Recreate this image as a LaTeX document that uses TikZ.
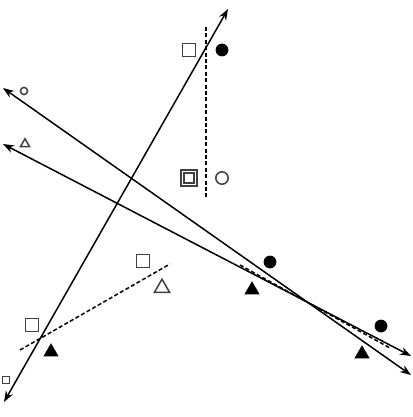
\documentclass[tikz,border=0pt]{standalone}
\usetikzlibrary{arrows.meta,shapes.geometric}

\begin{document}
\begin{tikzpicture}[x=0.5pt,y=-0.5pt,line width=0.75pt,
    >={Stealth[length=5.5pt,width=4pt]},
    sq/.style={draw=black!75,rectangle,minimum size=6.4pt,inner sep=0pt},
    sqs/.style={sq,minimum size=3.6pt},
    dot/.style={fill=black,circle,minimum size=6.4pt,inner sep=0pt},
    ring/.style={draw=black!75,circle,minimum size=6.2pt,inner sep=0pt},
    rings/.style={ring,minimum size=3.6pt},
    tri/.style={regular polygon,regular polygon sides=3,minimum size=8.8pt,inner sep=0pt},
    trif/.style={tri,fill=black},
    trio/.style={tri,draw=black!75},
    tris/.style={trio,minimum size=5.2pt},
    sep/.style={dashed,dash pattern=on 2pt off 1.2pt}]

    \useasboundingbox (0,0) rectangle (412,417);

    % end points of the lines
    \coordinate (a1) at (4,402);   \coordinate (a2) at (228,9);
    \coordinate (b1) at (3,88);    \coordinate (b2) at (411,375);
    \coordinate (c1) at (3,144);   \coordinate (c2) at (411,356);
    \coordinate (d1) at (206,27);  \coordinate (d2) at (206,198);
    \coordinate (e1) at (20,350);  \coordinate (e2) at (170,264);
    \coordinate (f1) at (240,265); \coordinate (f2) at (390,348);

    \draw[<->] (a1) -- (a2);
    \draw[<->] (b1) -- (b2);
    \draw[<->] (c1) -- (c2);
    \draw[sep] (d1) -- (d2);
    \draw[sep] (e1) -- (e2);
    \draw[sep] (f1) -- (f2);

    % markers
    \node[sq] (s1) at (189,50) {};
    \node[dot] (p1) at (222,50) {};
    \node[rings] (r1) at (24,91) {};
    \node[tris] (t1) at (25,144) {};
    \node[sq,double,double distance=0.7pt,line width=0.8pt] (s2) at (189,178) {};
    \node[ring] (r2) at (222,178) {};
    \node[sq] (s3) at (143,261) {};
    \node[trio] (t2) at (162,288) {};
    \node[sq] (s4) at (32,325) {};
    \node[trif] (t3) at (51,352) {};
    \node[sqs] (s5) at (6,380) {};
    \node[dot] (p2) at (270,262) {};
    \node[trif] (t4) at (252,290) {};
    \node[dot] (p3) at (381,326) {};
    \node[trif] (t5) at (362,354) {};

\end{tikzpicture}
\end{document}
